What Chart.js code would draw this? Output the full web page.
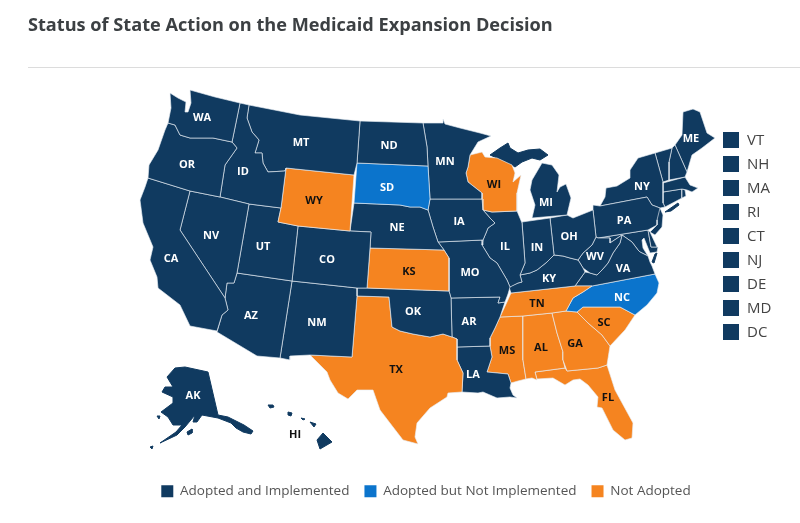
<!DOCTYPE html>
<html>
<head>
<meta charset="utf-8">
<style>html,body{margin:0;padding:0;background:#fff;overflow:hidden}#wrap{width:800px;height:523px}</style>
<script src="https://cdn.jsdelivr.net/npm/chart.js@4/dist/chart.umd.min.js"></script>
</head>
<body>
<div id="wrap"><canvas id="c" width="800" height="523"></canvas></div>
<script>
const titleText = 'Status of State Action on the Medicaid Expansion Decision';
const statusNames = ['Adopted and Implemented', 'Adopted but Not Implemented', 'Not Adopted'];
const statusColors = ['#103a60', '#0b74cc', '#f58420'];
const adoptedNotImplemented = ['SD', 'NC'];
const notAdopted = ['WY', 'KS', 'TX', 'WI', 'TN', 'MS', 'AL', 'GA', 'FL', 'SC'];
const smallStates = ['VT', 'NH', 'MA', 'RI', 'CT', 'NJ', 'DE', 'MD', 'DC'];
const detachedStates = ['AK', 'HI'];

// State outlines, in map units. Each state lists one or more rings.
const stateShapes = {
  WA: [[[170,93],[178,98],[186,102],[185,112],[188,112],[191,103],[190,90],[215,97],[240,103],[232,142],[213,138],[190,138],[180,135],[175,125],[168,123],[171,108]]],
  OR: [[[168,123],[175,125],[180,135],[190,138],[213,138],[232,142],[237,148],[225,165],[220,197],[190,191],[148,178],[149,165],[158,150],[165,130]]],
  CA: [[[148,178],[190,191],[180,230],[225,298],[228,310],[222,315],[217,331],[190,326],[180,305],[158,288],[157,277],[150,260],[153,247],[143,223],[140,200],[145,187]]],
  NV: [[[190,191],[220,197],[249,204],[237,273],[234,283],[227,283],[225,298],[180,230]]],
  ID: [[[240,103],[249,105],[247,118],[252,132],[259,140],[255,153],[262,153],[263,163],[268,172],[285,171],[286,168],[281,208],[249,204],[220,197],[225,165],[237,148],[232,142]]],
  MT: [[[249,105],[300,115],[360,121],[357,163],[354,175],[286,168],[285,171],[268,172],[263,163],[262,153],[255,153],[259,140],[252,132],[247,118]]],
  WY: [[[286,168],[354,175],[350,231],[298,226],[278,222],[281,208]]],
  UT: [[[249,204],[281,208],[278,222],[298,226],[292,281],[237,273]]],
  CO: [[[298,226],[350,231],[371,232],[370,248],[367,288],[357,288],[292,281]]],
  AZ: [[[237,273],[292,281],[280,358],[257,356],[217,332],[222,315],[228,310],[225,298],[227,283],[234,283]]],
  NM: [[[292,281],[357,288],[357,296],[352,357],[310,355],[290,356],[290,360],[280,358]]],
  ND: [[[360,121],[423,123],[427,147],[428,166],[357,163]]],
  SD: [[[357,163],[428,166],[430,199],[428,210],[420,207],[410,207],[400,205],[354,203]]],
  NE: [[[354,203],[400,205],[410,207],[420,207],[428,210],[433,227],[438,242],[444,250],[370,248],[371,232],[350,231]]],
  KS: [[[370,248],[444,250],[449,258],[449,291],[367,288]]],
  OK: [[[357,288],[367,288],[449,291],[451,298],[452,337],[443,334],[430,337],[413,334],[400,331],[392,327],[389,297],[357,296]]],
  TX: [[[357,296],[389,297],[392,327],[400,331],[413,334],[430,337],[443,334],[452,337],[457,339],[457,360],[463,373],[462,392],[448,393],[447,397],[430,408],[417,423],[415,437],[418,444],[403,440],[393,427],[380,410],[373,390],[357,390],[348,399],[338,393],[330,380],[327,372],[310,355],[352,357]]],
  MN: [[[423,123],[443,123],[443,119],[445,124],[460,128],[480,133],[491,136],[478,142],[470,155],[468,167],[466,173],[468,182],[482,193],[482,199],[430,199],[428,166],[427,147]]],
  IA: [[[430,199],[482,199],[483,210],[490,218],[495,223],[488,228],[486,233],[483,240],[438,242],[433,227],[428,210]]],
  MO: [[[438,242],[483,240],[482,245],[490,258],[497,263],[507,280],[510,287],[508,294],[505,302],[498,303],[500,297],[451,298],[449,291],[449,258],[444,250]]],
  AR: [[[451,298],[500,297],[498,303],[505,302],[500,317],[495,328],[490,338],[490,346],[457,347],[457,339],[452,337]]],
  LA: [[[457,347],[490,346],[492,357],[487,372],[508,374],[511,383],[510,388],[513,395],[517,398],[510,397],[497,398],[483,392],[478,393],[462,392],[463,373],[457,360]]],
  WI: [[[482,152],[485,157],[497,158],[512,165],[515,173],[513,182],[521,175],[517,193],[517,211],[492,212],[483,210],[482,199],[482,193],[468,182],[466,173],[468,167],[470,155]]],
  IL: [[[483,210],[492,212],[517,211],[522,223],[525,263],[520,275],[522,282],[518,283],[510,287],[507,280],[497,263],[490,258],[482,245],[483,240],[486,233],[488,228],[495,223],[490,218]]],
  IN: [[[522,222],[550,218],[554,255],[547,262],[537,270],[530,273],[520,275],[525,263]]],
  MI: [[[532,218],[567,215],[571,198],[566,184],[560,187],[557,192],[559,175],[552,165],[542,163],[532,180],[530,190],[535,205]],
       [[490,155],[500,148],[508,143],[510,148],[518,153],[528,150],[540,149],[548,155],[540,160],[532,158],[522,162],[515,167],[512,165],[497,158]]],
  OH: [[[550,218],[567,215],[573,218],[593,210],[596,237],[592,245],[583,253],[578,260],[570,258],[563,256],[554,255]]],
  KY: [[[520,275],[530,273],[537,270],[547,262],[554,255],[563,256],[570,258],[578,260],[580,263],[583,268],[585,272],[575,286],[511,293],[509,287],[518,283],[522,282]]],
  TN: [[[507,302],[511,293],[575,286],[592,286],[583,292],[573,298],[566,311],[552,313],[523,316],[500,317]]],
  WV: [[[578,260],[583,253],[592,245],[596,237],[598,238],[610,238],[610,243],[622,235],[620,243],[613,253],[608,263],[602,270],[597,275],[590,273],[583,268],[580,263]]],
  VA: [[[575,286],[585,272],[590,273],[597,275],[602,270],[608,263],[613,253],[620,243],[622,235],[632,242],[638,250],[640,252],[648,256],[650,262],[652,266],[655,274],[592,286]],
       [[655,254],[657,253],[654,263],[652,262]]],
  PA: [[[593,210],[593,205],[600,206],[647,197],[652,205],[660,208],[657,220],[657,225],[648,230],[598,238],[596,237]]],
  NY: [[[600,206],[605,197],[606,188],[617,186],[630,178],[630,170],[638,158],[655,153],[663,182],[663,203],[665,207],[660,208],[652,205],[647,197]],
       [[665,212],[678,203],[679,205],[671,211]]],
  VT: [[[655,153],[672,148],[669,162],[669,180],[663,182]]],
  NH: [[[672,148],[675,145],[687,172],[685,177],[669,180],[669,162]]],
  ME: [[[675,145],[682,135],[683,112],[693,109],[700,112],[707,133],[715,138],[702,148],[692,155],[687,172]]],
  MA: [[[663,183],[685,177],[690,185],[698,188],[692,192],[687,190],[682,189],[663,192]]],
  RI: [[[682,189],[685,190],[686,196],[682,198]]],
  CT: [[[663,192],[682,189],[682,198],[665,207],[663,203]]],
  NJ: [[[652,205],[660,208],[663,215],[662,227],[655,235],[650,232],[657,225],[657,220]]],
  DE: [[[648,230],[650,232],[657,247],[651,247]]],
  MD: [[[598,238],[648,230],[651,247],[658,247],[657,252],[650,253],[646,243],[644,238],[642,240],[643,248],[648,256],[640,252],[638,250],[632,242],[622,235],[610,243],[610,238]]],
  NC: [[[592,286],[655,274],[659,283],[657,293],[647,305],[635,315],[620,307],[612,307],[583,307],[577,312],[566,311],[573,298],[583,292]]],
  SC: [[[577,312],[583,307],[612,307],[620,307],[635,315],[625,330],[610,346],[602,335],[588,323]]],
  GA: [[[552,313],[566,311],[577,312],[588,323],[602,335],[610,346],[607,365],[598,368],[567,371],[563,360],[563,352],[557,333]]],
  AL: [[[523,316],[552,313],[557,333],[563,352],[563,360],[565,368],[535,372],[537,380],[532,378],[526,379],[523,360]]],
  MS: [[[500,317],[523,316],[523,360],[526,379],[518,381],[511,383],[508,374],[487,372],[492,357],[490,346],[490,338],[495,328]]],
  FL: [[[535,372],[565,368],[567,371],[598,368],[607,365],[615,390],[633,423],[632,438],[625,440],[613,430],[602,408],[597,407],[598,397],[588,385],[580,379],[573,380],[565,385],[553,378],[537,379]]],
  AK: [[[167,377],[175,368],[185,367],[208,372],[218,415],[228,417],[236,421],[244,425],[253,431],[251,434],[243,432],[236,428],[231,423],[218,418],[202,415],[197,422],[193,422],[195,415],[185,427],[177,435],[160,443],[176,432],[182,425],[173,425],[168,417],[161,412],[173,403],[173,397],[162,392],[165,387],[173,387]],
       [[187,432],[192,429],[192,433],[188,435]],[[157,416],[160,416],[159,419]],[[150,447],[153,446],[152,449]]],
  HI: [[[317,440],[323,433],[332,442],[320,449]],[[310,422],[316,424],[314,427]],[[301,418],[305,419],[303,420]],[[288,412],[292,413],[291,416],[288,415]],[[268,405],[273,405],[274,407],[270,408]]]
};

const stateLabels = {WA:[202,118],OR:[187,165],CA:[171,259],NV:[211,236],ID:[243,172],MT:[301,143],WY:[314,201],UT:[263,247],AZ:[251,316],CO:[327,260],NM:[317,323],ND:[389,146],SD:[387,188],NE:[397,228],KS:[409,272],OK:[413,312],TX:[396,370],MN:[445,162],IA:[459,222],MO:[470,273],AR:[469,322],LA:[473,375],WI:[494,185],IL:[505,247],IN:[537,248],MI:[546,203],OH:[569,237],KY:[549,279],TN:[537,304],MS:[507,351],AL:[541,348],GA:[575,344],FL:[608,398],SC:[604,323],NC:[622,298],VA:[623,269],WV:[595,257],PA:[624,221],NY:[642,187],ME:[691,139],AK:[193,396],HI:[295,435]};

const statusOf = code => adoptedNotImplemented.includes(code) ? 1 : notAdopted.includes(code) ? 2 : 0;
const fontFamily = '"Open Sans", sans-serif';
const keyX = 731, keyTop = 140, keyStep = 24, keyTextX = 747;

const datasets = [];
Object.keys(stateShapes).forEach(code => {
  stateShapes[code].forEach((ring, r) => {
    const col = statusColors[statusOf(code)];
    const selfBorder = detachedStates.includes(code) || r > 0;
    datasets.push({
      label: code,
      data: ring.concat([ring[0]]).map(p => ({x: p[0], y: p[1]})),
      showLine: true, fill: 'shape', tension: 0,
      backgroundColor: col,
      borderColor: selfBorder ? col : 'rgba(232,238,244,0.8)', borderWidth: selfBorder ? 1 : 0.8, borderJoinStyle: 'round',
      pointRadius: 0, pointHoverRadius: 0, clip: false
    });
  });
});
datasets.push({
  label: 'Small states',
  data: smallStates.map((s, i) => ({x: keyX, y: keyTop + i * keyStep})),
  showLine: false, pointStyle: 'rect', pointRadius: 11.3, pointHoverRadius: 11.3,
  pointBackgroundColor: smallStates.map(s => statusColors[statusOf(s)]),
  pointBorderWidth: 0, clip: false
});

const mapPlugin = {
  id: 'mapPlugin',
  afterLayout(chart) {
    const a = chart.chartArea, x = chart.scales.x, y = chart.scales.y;
    x.min = a.left; x.max = a.right; x.configure();
    y.min = a.top; y.max = a.bottom; y.configure();
  },
  beforeDatasetsDraw(chart) {
    const {ctx, scales: {x, y}} = chart;
    ctx.save();
    ctx.strokeStyle = '#dcdcdc'; ctx.lineWidth = 1;
    ctx.beginPath();
    ctx.moveTo(x.getPixelForValue(28), y.getPixelForValue(67.5));
    ctx.lineTo(x.getPixelForValue(800), y.getPixelForValue(67.5));
    ctx.stroke();
    ctx.restore();
  },
  afterDatasetsDraw(chart) {
    const {ctx, scales: {x, y}} = chart;
    ctx.save();
    ctx.textAlign = 'center'; ctx.textBaseline = 'middle';
    ctx.font = '700 11px ' + fontFamily;
    Object.keys(stateLabels).forEach(code => {
      const p = stateLabels[code];
      ctx.fillStyle = (statusOf(code) === 2 || code === 'HI') ? '#111' : '#fff';
      ctx.fillText(code, x.getPixelForValue(p[0]), y.getPixelForValue(p[1]));
    });
    ctx.textAlign = 'left';
    ctx.font = '400 15px ' + fontFamily;
    ctx.fillStyle = '#444';
    smallStates.forEach((s, i) => {
      ctx.fillText(s, x.getPixelForValue(keyTextX), y.getPixelForValue(keyTop + i * keyStep + 1));
    });
    ctx.restore();
  }
};

new Chart(document.getElementById('c'), {
  type: 'scatter',
  data: {datasets},
  plugins: [mapPlugin],
  options: {
    responsive: false, animation: false, devicePixelRatio: 1,
    layout: {padding: {left: 28, right: -24, top: 0, bottom: 15}},
    scales: {
      x: {type: 'linear', display: false, min: 0, max: 800},
      y: {type: 'linear', display: false, min: 0, max: 523, reverse: true}
    },
    plugins: {
      tooltip: {enabled: false},
      title: {
        display: true, text: titleText, align: 'start', color: '#3c4043',
        font: {family: fontFamily, size: 18.15, weight: '700'},
        padding: {top: 15, bottom: 30}
      },
      legend: {
        position: 'bottom',
        labels: {
          boxWidth: 12, boxHeight: 12, padding: 15, color: '#555',
          font: {family: fontFamily, size: 13.5},
          generateLabels: () => statusNames.map((n, i) => ({
            text: n, fillStyle: statusColors[i], strokeStyle: statusColors[i], lineWidth: 0, hidden: false, fontColor: '#555'
          }))
        },
        onClick: () => {}
      }
    }
  }
});
</script>
</body>
</html>
